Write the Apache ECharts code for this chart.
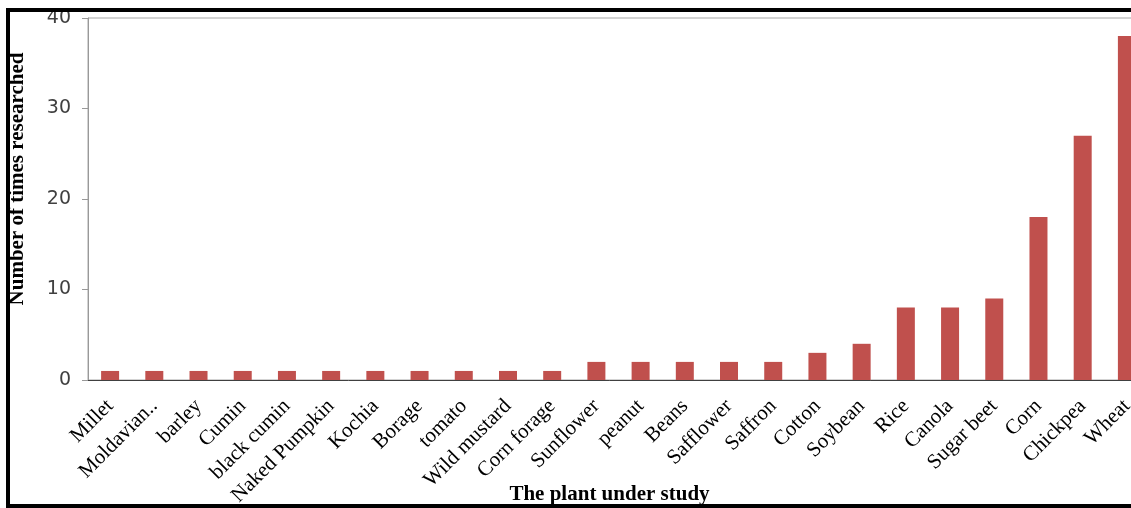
<!DOCTYPE html>
<html>
	<head>
		<meta charset="utf-8">
		<title>The plant under study</title>
		<style>
			html, body { margin: 0; padding: 0; background: #fff; }
		</style>
	</head>
	<body>
		<!-- chart area -->
		<div id="container" style="width: 1131px;height:508px;"></div>
	</body>
	<script src="https://cdn.jsdelivr.net/npm/echarts@6/dist/echarts.min.js"></script>
	<script type="text/javascript">
		'use strict'
		// plant names (x axis)
		var plants = ['Millet', 'Moldavian..', 'barley', 'Cumin', 'black cumin', 'Naked Pumpkin',
			'Kochia', 'Borage', 'tomato', 'Wild mustard', 'Corn forage', 'Sunflower', 'peanut',
			'Beans', 'Safflower', 'Saffron', 'Cotton', 'Soybean', 'Rice', 'Canola', 'Sugar beet',
			'Corn', 'Chickpea', 'Wheat'];
		// number of times researched
		var timesResearched = [1, 1, 1, 1, 1, 1, 1, 1, 1, 1, 1, 2, 2, 2, 2, 2, 3, 4, 8, 8, 9, 18, 27, 38];
		var yTicks = [0, 10, 20, 30, 40];

		var serif = 'Liberation Serif, Times New Roman, serif';
		var myCharts = echarts.init(document.getElementById('container'));
		var option = {
			backgroundColor: '#fff',
			animation: false,
			grid: {
				left: 88,
				top: 18,
				bottom: 128,
				width: 1061,
				outerBoundsMode: 'none',
				show: true,
				borderColor: '#a6a6a6',
				borderWidth: 1
			},
			xAxis: {
				type: 'category',
				data: plants,
				name: 'The plant under study',
				nameLocation: 'middle',
				nameGap: 104,
				nameMoveOverlap: false,
				nameTextStyle: {
					fontFamily: serif,
					fontWeight: 'bold',
					fontSize: 21,
					color: '#000',
					padding: [0, 18, 0, 0]
				},
				axisLine: { lineStyle: { color: '#404040', width: 1 } },
				axisTick: { show: false },
				axisLabel: {
					rotate: 45,
					interval: 0,
					margin: 23,
					fontFamily: serif,
					fontSize: 21,
					color: '#000'
				}
			},
			yAxis: {
				type: 'value',
				min: yTicks[0],
				max: yTicks[yTicks.length - 1],
				interval: 10,
				name: 'Number of times researched',
				nameLocation: 'middle',
				nameGap: 60,
				nameMoveOverlap: false,
				nameTextStyle: {
					fontFamily: serif,
					fontWeight: 'bold',
					fontSize: 21,
					color: '#000',
					padding: [0, 0, 0, 40]
				},
				axisLine: { show: true, lineStyle: { color: '#999' } },
				axisTick: { show: true, length: 6, lineStyle: { color: '#999' } },
				splitLine: { show: false },
				axisLabel: {
					margin: 17,
					fontFamily: 'DejaVu Sans',
					fontSize: 19,
					color: '#404040'
				}
			},
			series: [{
				type: 'bar',
				data: timesResearched,
				barWidth: 18,
				itemStyle: { color: '#c0504d' }
			}],
			graphic: [{
				type: 'rect',
				shape: { x: 8, y: 10, width: 1140, height: 496 },
				style: { fill: null, stroke: '#000', lineWidth: 4 },
				z: 100
			}]
		};
		myCharts.setOption(option);
	</script>
</html>
